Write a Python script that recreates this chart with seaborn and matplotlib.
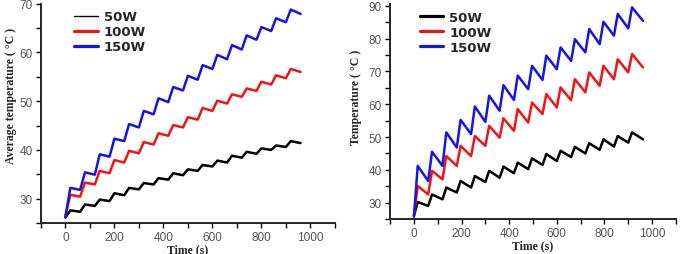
import pandas as pd
import matplotlib.pyplot as plt
import seaborn as sns
from matplotlib.ticker import MultipleLocator

# Power levels and colours
POWERS = ["50W", "100W", "150W"]
COLORS = {"50W": "#000000", "100W": "#f01414", "150W": "#1414e6"}

# Left panel: average temperature, trough at start of each 60 s cycle, peak ~20 s later
time_avg = [0, 20, 60, 80, 120, 140, 180, 200, 240, 260, 300, 320, 360, 380, 420, 440,
            480, 500, 540, 560, 600, 620, 660, 680, 720, 740, 780, 800, 840, 860, 900, 920, 960]
avg_50w = [26.1, 27.6, 27.3, 28.8, 28.5, 29.8, 29.5, 31.1, 30.7, 32.2, 31.9, 33.2, 32.9,
           34.2, 33.9, 35.2, 34.8, 36.0, 35.7, 36.9, 36.6, 37.8, 37.4, 38.8, 38.4, 39.6,
           39.2, 40.3, 40.0, 40.9, 40.6, 41.8, 41.4]
avg_100w = [26.3, 30.8, 30.4, 33.3, 32.9, 35.7, 35.2, 37.9, 37.4, 39.8, 39.3, 41.6, 41.1,
            43.4, 42.9, 45.1, 44.6, 46.7, 46.2, 48.6, 48.0, 50.1, 49.5, 51.4, 50.9, 52.6,
            52.1, 54.0, 53.4, 55.3, 54.7, 56.6, 56.0]
avg_150w = [26.3, 32.2, 31.8, 35.4, 34.9, 39.1, 38.6, 42.3, 41.8, 45.3, 44.6, 48.0, 47.3,
            50.6, 49.8, 52.9, 52.2, 55.2, 54.4, 57.4, 56.6, 59.5, 58.6, 61.5, 60.6, 63.5,
            62.6, 65.2, 64.4, 67.0, 66.2, 68.8, 67.9]

# Right panel: temperature, sawtooth (fast rise, slow decay)
time_tmp = [0, 16, 60, 76, 120, 136, 180, 196, 240, 256, 300, 316, 360, 376, 420, 436,
            480, 496, 540, 556, 600, 616, 660, 676, 720, 736, 780, 796, 840, 856, 900, 916, 962]
tmp_50w = [26.0, 30.2, 29.0, 32.5, 31.0, 34.6, 33.1, 36.6, 34.6, 38.1, 36.3, 39.7, 37.6,
           41.0, 39.0, 42.2, 40.2, 43.5, 41.5, 44.8, 42.7, 45.8, 43.9, 47.0, 45.0, 48.1,
           46.1, 49.3, 47.1, 50.3, 48.3, 51.4, 49.3]
tmp_100w = [26.0, 35.1, 32.5, 39.7, 37.1, 44.2, 41.2, 47.3, 44.2, 50.3, 47.3, 53.4, 49.8,
            55.7, 51.9, 58.5, 54.4, 60.5, 57.0, 63.1, 59.0, 65.1, 61.2, 67.6, 63.6, 69.7,
            65.6, 71.7, 67.6, 73.7, 69.7, 75.3, 71.2]
tmp_150w = [25.7, 41.2, 36.6, 45.5, 41.2, 51.4, 46.8, 55.2, 50.9, 59.3, 54.6, 62.6, 58.0,
            65.8, 61.3, 68.7, 64.6, 71.7, 67.4, 74.8, 70.7, 77.3, 73.2, 79.8, 75.8, 82.9,
            78.3, 85.1, 80.9, 87.5, 83.1, 89.5, 85.4]


def long_frame(times, series):
    """Stack the series into one long table for seaborn."""
    parts = []
    for power, values in zip(POWERS, series):
        parts.append(pd.DataFrame({"time": times, "temp": values, "power": power}))
    return pd.concat(parts, ignore_index=True)


def style_axis(ax, ylim, ylabel, label_xy):
    ax.set_xlim(-100, 1100)
    ax.set_ylim(*ylim)
    ax.xaxis.set_major_locator(MultipleLocator(200))
    ax.xaxis.set_minor_locator(MultipleLocator(100))
    ax.yaxis.set_major_locator(MultipleLocator(10))
    ax.yaxis.set_minor_locator(MultipleLocator(5))
    ax.tick_params(which="both", direction="out", width=1.0, color="black", length=3.5,
                   labelsize=8.5, labelcolor="#555555", pad=2.5)
    for lab in ax.get_xticklabels() + ax.get_yticklabels():
        lab.set_family("Liberation Sans")
    for side in ["left", "bottom"]:
        ax.spines[side].set_linewidth(1.4)
    sns.despine(ax=ax)
    ax.set_xlabel("Time (s)", fontsize=8.5, fontweight="bold", family="Liberation Serif",
                  labelpad=0)
    ax.set_ylabel(ylabel, fontsize=8.5, fontweight="bold", family="Liberation Serif")
    ax.yaxis.set_label_coords(*label_xy)


sns.set_style("ticks")
plt.rcParams["font.family"] = ["DejaVu Sans"]

fig = plt.figure(figsize=(6.82, 2.55), dpi=100)
ax1 = fig.add_axes([0.060, 0.1216, 0.431, 0.860])
ax2 = fig.add_axes([0.572, 0.137, 0.419, 0.843])

df_avg = long_frame(time_avg, [avg_50w, avg_100w, avg_150w])
df_tmp = long_frame(time_tmp, [tmp_50w, tmp_100w, tmp_150w])

for ax, df in [(ax1, df_avg), (ax2, df_tmp)]:
    sns.lineplot(data=df, x="time", y="temp", hue="power", hue_order=POWERS,
                 palette=COLORS, estimator=None, sort=False, linewidth=1.8, ax=ax)

style_axis(ax1, (25, 70), "Average temperature ( °C )", (-0.083, 0.585))
style_axis(ax2, (25, 90.5), "Temperature ( °C )", (-0.10, 0.572))

for ax, anchor, thin_first in [(ax1, (0.09, 1.0), True), (ax2, (0.08, 1.0), False)]:
    leg = ax.legend(loc="upper left", bbox_to_anchor=anchor, frameon=False,
                    prop={"weight": "bold", "size": 9.5}, handlelength=1.8,
                    handletextpad=0.45, labelspacing=0.15, borderaxespad=0.1)
    for line in leg.get_lines():
        line.set_linewidth(2.3)
    if thin_first:
        leg.get_lines()[0].set_linewidth(1.0)

plt.savefig("out.png", dpi=100)
